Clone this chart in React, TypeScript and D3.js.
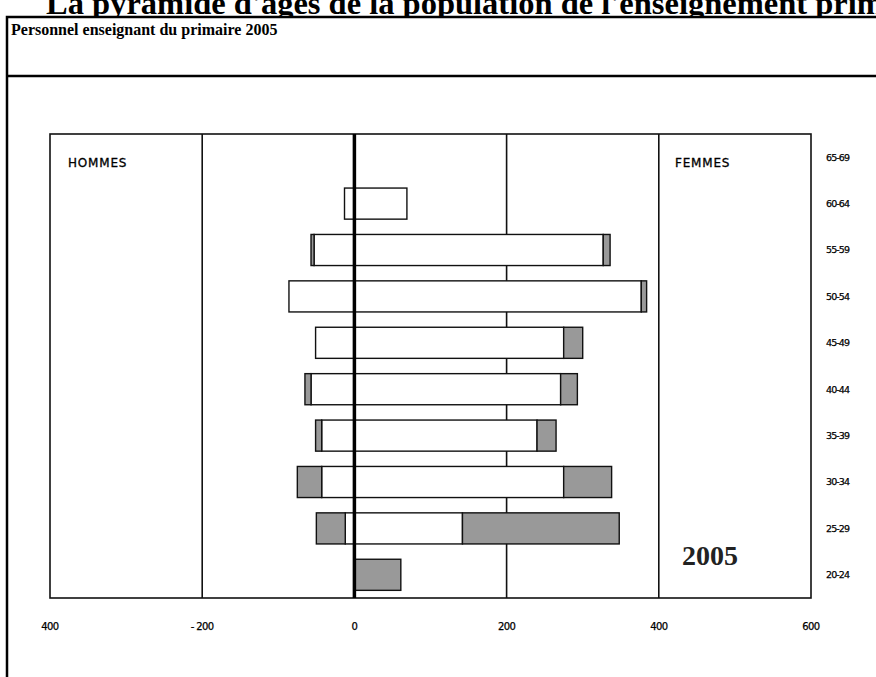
import React from "react";
import * as d3 from "d3";

const ages = ["65-69", "60-64", "55-59", "50-54", "45-49", "40-44", "35-39", "30-34", "25-29", "20-24"];
const menWhite = [0, 13, 53, 86, 51, 57, 43, 43, 12, 0];
const menGrey = [0, 0, 4, 0, 0, 8, 8, 32, 38, 0];
const womenWhite = [0, 69, 327, 377, 275, 271, 240, 275, 142, 0];
const womenGrey = [0, 0, 9, 7, 25, 22, 25, 63, 206, 61];
const xTicks = [-400, -200, 0, 200, 400, 600];
const xTickLabels = ["400", "- 200", "0", "200", "400", "600"];
const gridValues = [-200, 200, 400];

const pageTitle = "La pyramide d'âges de la population de l'enseignement primaire";
const subTitle = "Personnel enseignant du primaire 2005";

export default function App() {
  const W = 876;
  const H = 677;
  const x = d3.scaleLinear().domain([-400, 600]).range([50, 811]);
  const y = d3.scaleBand<string>().domain(ages).range([134, 598]).paddingInner(0.33).paddingOuter(0.165);

  const rows = ages.map((a, i) => ({
    age: a,
    segs: [
      { x0: -menWhite[i], x1: 0, fill: "#ffffff" },
      { x0: -(menWhite[i] + menGrey[i]), x1: -menWhite[i], fill: "#999999" },
      { x0: 0, x1: womenWhite[i], fill: "#ffffff" },
      { x0: womenWhite[i], x1: womenWhite[i] + womenGrey[i], fill: "#999999" },
    ].filter((s) => s.x1 - s.x0 > 0),
  }));

  const sans = "'DejaVu Sans', 'Liberation Sans', sans-serif";
  const serif = "'Liberation Serif', 'DejaVu Serif', serif";

  return (
    <svg width={W} height={H} style={{ position: "absolute", left: 0, top: 0, background: "#fff" }}>
      <rect x={0} y={0} width={W} height={H} fill="#fff" />
      <text x={46} y={14} fontFamily={serif} fontWeight="bold" fontSize={32.5} fill="#000">
        {pageTitle}
      </text>
      {/* table cell */}
      <rect x={7} y={17} width={W} height={H} fill="#fff" stroke="#000" strokeWidth={2.5} />
      <line x1={7} x2={W} y1={76} y2={76} stroke="#000" strokeWidth={2.5} />
      <text x={11} y={35} fontFamily={serif} fontWeight="bold" fontSize={16} fill="#000">
        {subTitle}
      </text>

      {/* plot frame */}
      <rect x={x(-400)} y={134} width={x(600) - x(-400)} height={598 - 134} fill="#fff" stroke="#111" strokeWidth={1.6} />
      {gridValues.map((v) => (
        <line key={v} x1={x(v)} x2={x(v)} y1={134} y2={598} stroke="#111" strokeWidth={1.6} />
      ))}

      {rows.map((r) =>
        r.segs.map((s, j) => (
          <rect
            key={r.age + j}
            x={x(s.x0)}
            y={y(r.age)}
            width={x(s.x1) - x(s.x0)}
            height={y.bandwidth()}
            fill={s.fill}
            stroke="#111"
            strokeWidth={1.4}
          />
        ))
      )}

      <line x1={x(0)} x2={x(0)} y1={134} y2={598} stroke="#000" strokeWidth={3.5} />

      <text x={68} y={167} fontFamily={sans} fontSize={12} letterSpacing={0.8} fill="#000" stroke="#000" strokeWidth={0.3}>HOMMES</text>
      <text x={675} y={167} fontFamily={sans} fontSize={12} letterSpacing={0.8} fill="#000" stroke="#000" strokeWidth={0.3}>FEMMES</text>
      <text x={682} y={565} fontFamily={serif} fontWeight="bold" fontSize={28} fill="#222">2005</text>

      {ages.map((a) => (
        <text
          key={a}
          x={826}
          y={(y(a) as number) + y.bandwidth() / 2}
          dy="0.35em"
          fontFamily={sans}
          fontSize={9.5}
          letterSpacing={-0.9}
          fill="#000"
          stroke="#000"
          strokeWidth={0.25}
        >
          {a}
        </text>
      ))}

      {xTicks.map((t, i) => (
        <text
          key={t}
          x={x(t)}
          y={630}
          textAnchor="middle"
          fontFamily={sans}
          fontSize={10}
          letterSpacing={-0.6}
          fill="#000"
          stroke="#000"
          strokeWidth={0.25}
        >
          {xTickLabels[i]}
        </text>
      ))}
    </svg>
  );
}
